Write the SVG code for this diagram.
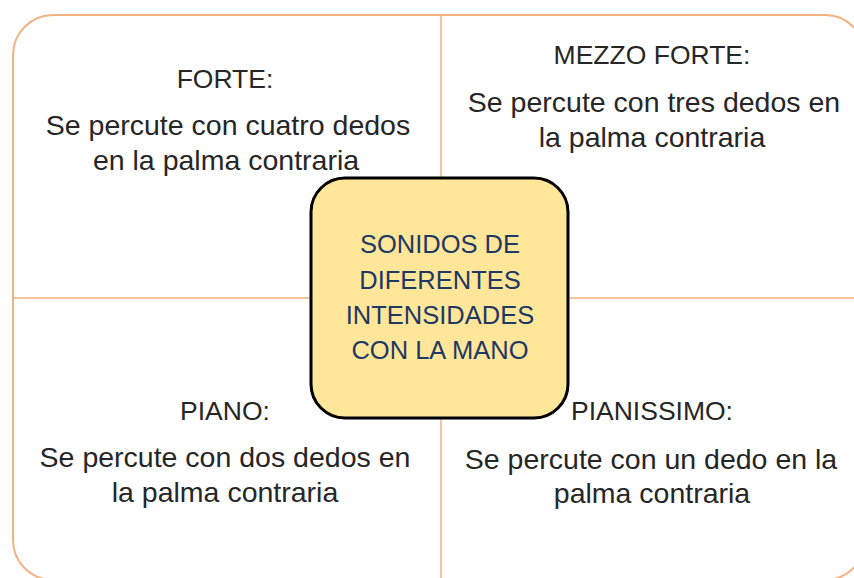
<svg xmlns="http://www.w3.org/2000/svg" width="854" height="578" viewBox="0 0 854 578">
<style>
.frame{fill:#ffffff;stroke:#f4b183;stroke-width:2}
.div{stroke:#f4b183;stroke-width:1.5;fill:none}
.hd{font-family:"Liberation Sans",Arial,sans-serif;font-size:26.5px;fill:#262626;text-anchor:middle}
.bd{font-family:"Liberation Sans",Arial,sans-serif;font-size:28.5px;fill:#262626;text-anchor:middle}
.ct{font-family:"Liberation Sans",Arial,sans-serif;font-size:25.5px;fill:#1f3864;text-anchor:middle}
.core{fill:#ffe699;stroke:#000000;stroke-width:3}
</style>
<rect width="854" height="578" fill="#ffffff"/>
<rect class="frame" x="13" y="15" width="852" height="565" rx="40" ry="40"/>
<g id="connectors">
<line class="div" x1="441" y1="15" x2="441" y2="580"/>
<line class="div" x1="13" y1="298" x2="865" y2="298"/>
</g>
<g id="forte">
<text class="hd" x="225" y="88">FORTE:</text>
<text class="bd" x="228" y="135">Se percute con cuatro dedos</text>
<text class="bd" x="226" y="170">en la palma contraria</text>
</g>
<g id="mezzo-forte">
<text class="hd" x="652" y="64">MEZZO FORTE:</text>
<text class="bd" x="654" y="112">Se percute con tres dedos en</text>
<text class="bd" x="652" y="147">la palma contraria</text>
</g>
<g id="piano">
<text class="hd" x="225" y="420">PIANO:</text>
<text class="bd" x="225" y="467">Se percute con dos dedos en</text>
<text class="bd" x="225" y="502">la palma contraria</text>
</g>
<g id="pianissimo">
<text class="hd" x="652" y="420">PIANISSIMO:</text>
<text class="bd" x="651" y="469">Se percute con un dedo en la</text>
<text class="bd" x="652" y="503">palma contraria</text>
</g>
<g id="center">
<rect class="core" x="311" y="178" width="257" height="240" rx="34" ry="34"/>
<text class="ct" x="440" y="253">SONIDOS DE</text>
<text class="ct" x="440" y="289">DIFERENTES</text>
<text class="ct" x="440" y="324">INTENSIDADES</text>
<text class="ct" x="440" y="359">CON LA MANO</text>
</g>
</svg>
